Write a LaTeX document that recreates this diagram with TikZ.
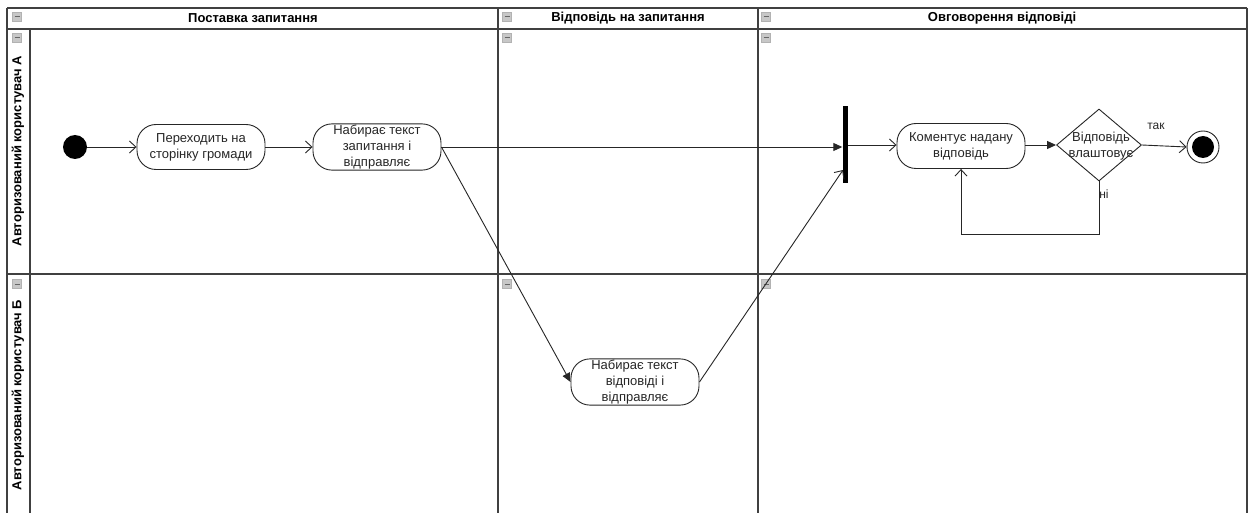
\documentclass[tikz,border=0pt]{standalone}
\usepackage{fontspec}
\setmainfont{Liberation Sans}
\usetikzlibrary{arrows.meta,shapes.geometric}

\tikzset{
  grid/.style={draw=black!75, line width=1.4pt},
  toggle/.style={draw=black!30, fill=black!22, minimum size=9pt, inner sep=0pt, line width=0.5pt},
  act/.style={draw=black!85, line width=0.9pt, rounded corners=19pt, minimum width=128pt,
              minimum height=45pt, align=center, inner sep=1pt,
              font=\fontsize{13}{16}\selectfont, text=black!85},
  hdr/.style={font=\fontsize{13}{15}\selectfont\bfseries},
  lane/.style={font=\fontsize{13}{15}\selectfont\bfseries, rotate=90},
  flow/.style={draw=black!85, line width=0.9pt},
  open/.style={flow, -{Straight Barb[length=6.5pt, width=12pt, line width=0.9pt]}},
  solid/.style={flow, -{Triangle[length=9pt, width=8pt]}},
  guard/.style={font=\fontsize{12}{14}\selectfont, text=black!85}
}

\newcommand{\togglebox}[2]{%
  \node[toggle] at (#1,#2) {};
  \draw[black!60, line width=1pt] (#1-2.5,#2) -- (#1+2.5,#2);
}

\begin{document}
\begin{tikzpicture}[x=1pt, y=-1pt]
  \useasboundingbox (0,0) rectangle (1253,513);
  \fill[white] (0,0) rectangle (1253,513);

  % swimlane frame
  \draw[grid] (7,8) -- (1247,8);
  \draw[grid] (7,29) -- (1247,29);
  \draw[grid] (7,274) -- (1247,274);
  \draw[grid] (7,8) -- (7,513);
  \draw[grid] (30,29) -- (30,513);
  \draw[grid] (498,8) -- (498,513);
  \draw[grid] (758,8) -- (758,513);
  \draw[grid] (1247,8) -- (1247,513);

  % column headers
  \node[hdr] (h1) at (253,18) {Поставка запитання};
  \node[hdr] (h2) at (628,18) {Відповідь на запитання};
  \node[hdr] (h3) at (1002,18) {Овговорення відповіді};

  % lane headers
  \node[lane] (la) at (18,151) {Авторизований користувач А};
  \node[lane] (lb) at (18,395) {Авторизований користувач Б};

  % collapse toggles
  \togglebox{17}{17}
  \togglebox{507}{17}
  \togglebox{766}{17}
  \togglebox{17}{38}
  \togglebox{507}{38}
  \togglebox{766}{38}
  \togglebox{17}{284}
  \togglebox{507}{284}
  \togglebox{766}{284}

  % activity nodes
  \node[circle, fill=black, minimum size=24pt, inner sep=0pt] (init) at (75,147) {};
  \node[act] (a1) at (201,147) {Переходить на\\сторінку громади};
  \node[act] (a2) at (377,147) {Набирає текст\\запитання і\\відправляє};
  \node[act] (b1) at (635,382) {Набирає текст\\відповіді і\\відправляє};
  \node[rectangle, fill=black, minimum width=5pt, minimum height=77pt, inner sep=0pt] (fork) at (845,145) {};
  \node[act] (a3) at (961,146) {Коментує надану\\відповідь};
  \node[diamond, draw=black!85, line width=0.9pt, minimum width=85pt, minimum height=72pt,
        inner sep=0pt] (dec) at (1099,145) {};
  \node[align=center, font=\fontsize{13}{16}\selectfont, text=black!85] (dectext) at (1101,146) {Відповідь\\влаштовує};
  \node[circle, draw=black!85, line width=0.9pt, minimum size=32pt, inner sep=0pt] (fin) at (1203,147) {};
  \fill[black] (fin.center) circle (11);

  \coordinate (forkin) at (843,170);

  % control flows
  \draw[open] (init) -- (a1);
  \draw[open] (a1) -- (a2);
  \draw[solid] (a2.east) -- (a2.east -| fork.west);
  \draw[solid] (a2.east) -- (b1.west);
  \draw[open] (b1.east) -- (forkin);
  \draw[open] (fork.east) -- (fork.east -| a3.west);
  \draw[solid] (a3.east |- dec.west) -- (dec.west);
  \draw[open] (dec.east) -- (fin.west);
  \node[guard] (yes) at (1156,126) {так};
  \draw[open] (dec.south) -- ++(0,53) -| (a3.south);
  \node[guard] (no) at (1104,194) {ні};
\end{tikzpicture}
\end{document}
